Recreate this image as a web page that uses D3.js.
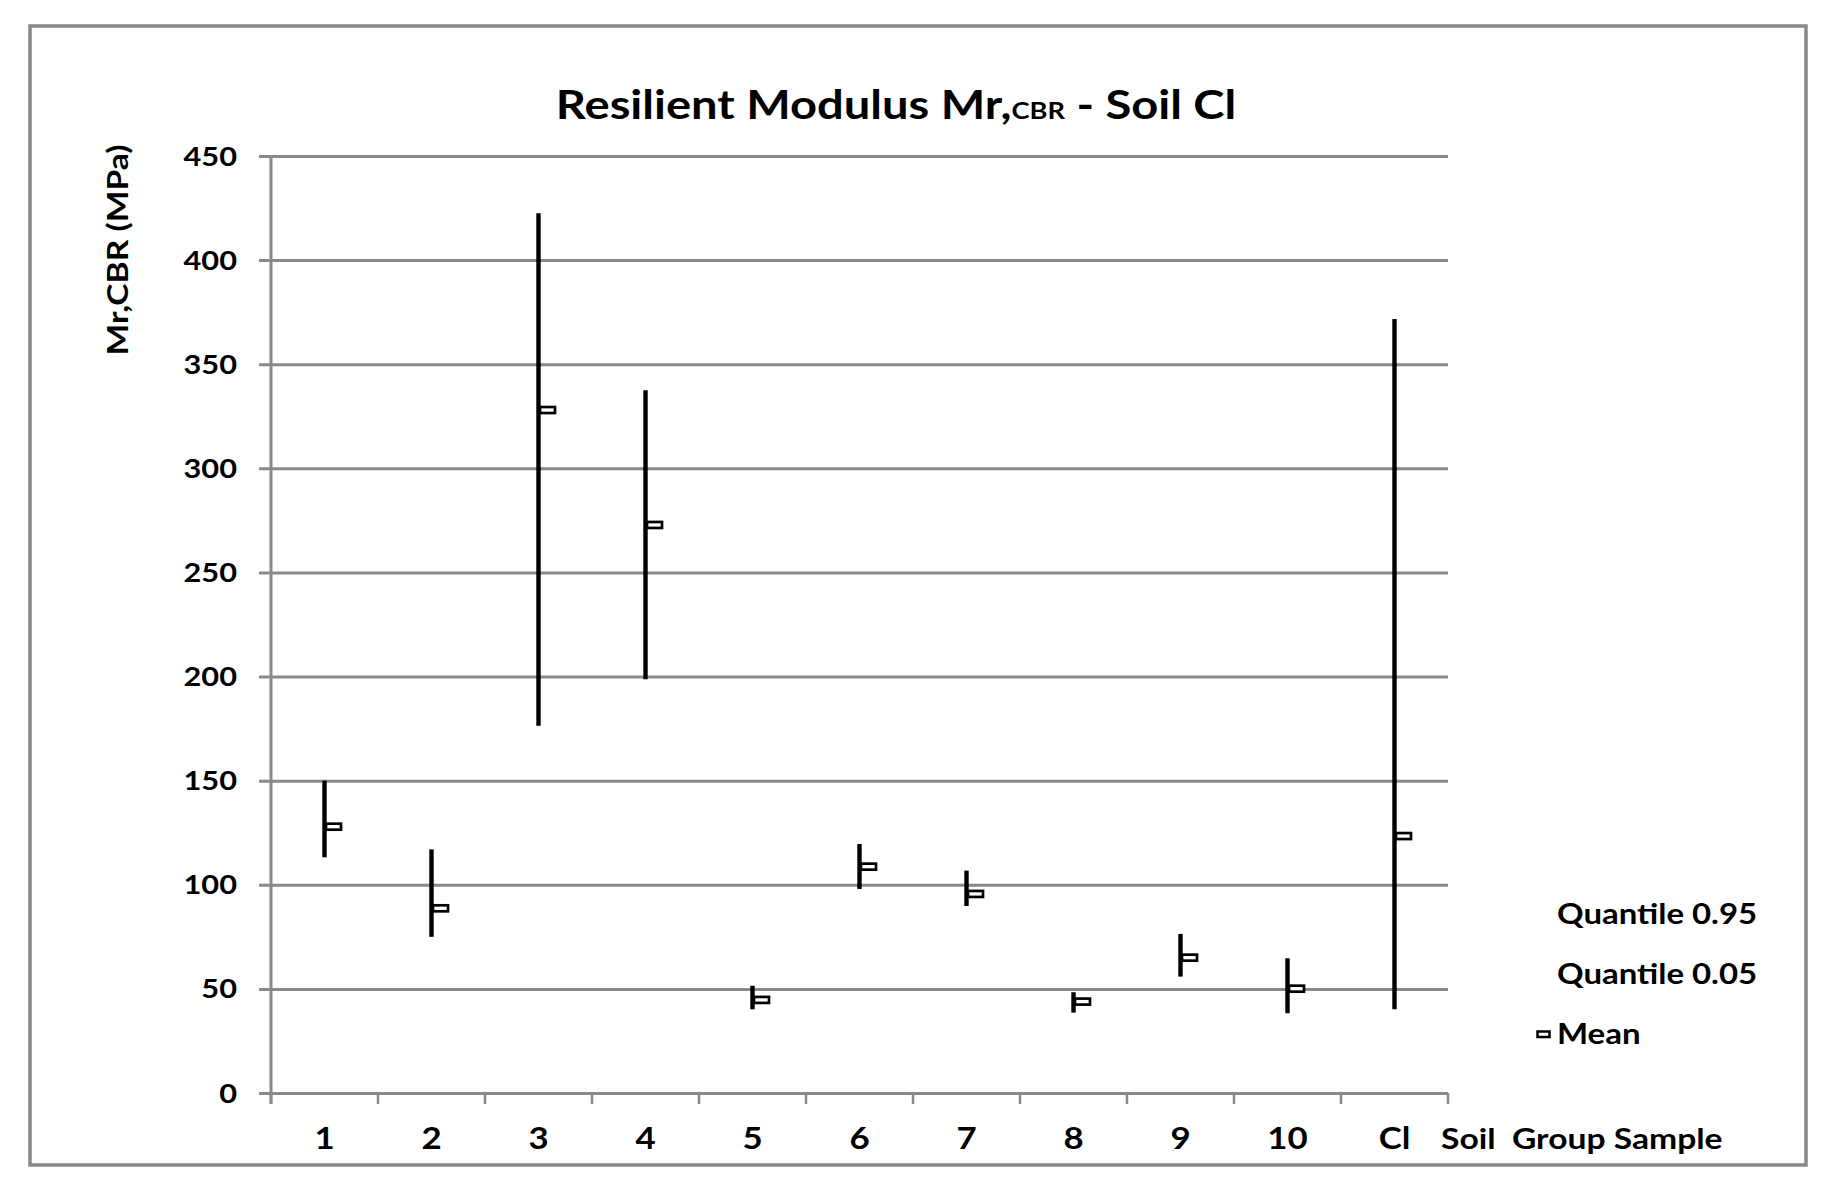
<!DOCTYPE html>
<html>
<head>
<meta charset="utf-8">
<script src="https://cdn.jsdelivr.net/npm/d3@7"></script>
<style>
  html, body { margin: 0; padding: 0; background: #fff; }
  svg text { font-family: Lato, "Open Sans", sans-serif; font-weight: 700; fill: #000; }
</style>
</head>
<body>
<svg id="chart" width="1827" height="1190"></svg>
<script>
// ---- data ----
const categories = ["1", "2", "3", "4", "5", "6", "7", "8", "9", "10", "Cl"];
const quantile95 = [150, 117, 422.5, 337.5, 51.5, 119.6, 106.8, 48.4, 76.4, 64.7, 371.7];
const quantile05 = [113.2, 75, 176.4, 198.7, 40.2, 98, 89.8, 38.6, 55.9, 38.3, 40.2];
const means      = [127.9, 88.7, 328, 272.8, 44.7, 108.7, 95.6, 43.9, 65, 50.1, 123.4];
const yTicks     = [0, 50, 100, 150, 200, 250, 300, 350, 400, 450];
const legendLabels = ["Quantile 0.95", "Quantile 0.05", "Mean"];

// ---- layout ----
const plot = { left: 271, right: 1448, top: 156, bottom: 1093 };
const gridColor = "#898989";
const SX = 1.16; // horizontal stretch of the reference lettering

const svg = d3.select("#chart");

// outer frame
svg.append("rect")
  .attr("x", 30).attr("y", 26).attr("width", 1776).attr("height", 1139)
  .attr("fill", "#fff").attr("stroke", gridColor).attr("stroke-width", 3.5);

const x = d3.scaleBand().domain(categories).range([plot.left, plot.right]).padding(0);
const y = d3.scaleLinear().domain([0, 450]).range([plot.bottom, plot.top]);

function txt(g, s, px, py, size, anchor, rot) {
  return g.append("text")
    .attr("transform", `translate(${px},${py})` + (rot ? ` rotate(${rot})` : "") + ` scale(${SX},1)`)
    .attr("font-size", size)
    .attr("text-anchor", anchor || "start")
    .text(s);
}

// gridlines (d3 axis)
const yAxis = d3.axisLeft(y).tickValues(yTicks)
  .tickSize(-(plot.right - plot.left) - 12).tickFormat("").tickSizeOuter(0);
const gy = svg.append("g").attr("transform", `translate(${plot.right},0)`).call(yAxis);
gy.select(".domain").remove();
gy.selectAll(".tick line").attr("stroke", gridColor).attr("stroke-width", 3)
  .attr("x1", 0).attr("x2", -(plot.right - plot.left) - 12);

// y tick labels
const gyl = svg.append("g");
yTicks.forEach(v => {
  txt(gyl, String(v), 237, y(v) + 9.5, 26.5, "end");
});

// y axis line
svg.append("line")
  .attr("x1", plot.left).attr("x2", plot.left)
  .attr("y1", y(450)).attr("y2", plot.bottom + 11)
  .attr("stroke", gridColor).attr("stroke-width", 3);

// x axis ticks at band boundaries
const boundaries = categories.map(c => x(c)).concat([x(categories[categories.length - 1]) + x.bandwidth()]);
svg.append("g").selectAll("line").data(boundaries).join("line")
  .attr("x1", d => d).attr("x2", d => d)
  .attr("y1", plot.bottom).attr("y2", plot.bottom + 11)
  .attr("stroke", gridColor).attr("stroke-width", 2.5);

// x labels
const gxl = svg.append("g");
categories.forEach(c => {
  txt(gxl, c, x(c) + x.bandwidth() / 2, 1149, 30, "middle");
});
txt(gxl, "Soil  Group Sample", 1441, 1149, 29, "start").style("white-space", "pre");

// quantile range lines
const cx = c => x(c) + x.bandwidth() / 2;
svg.append("g").selectAll("line").data(categories).join("line")
  .attr("x1", c => cx(c)).attr("x2", c => cx(c))
  .attr("y1", (c, i) => y(quantile95[i]))
  .attr("y2", (c, i) => y(quantile05[i]))
  .attr("stroke", "#000").attr("stroke-width", 4.4);

// mean markers
svg.append("g").selectAll("rect").data(categories).join("rect")
  .attr("x", c => cx(c) + 1.5)
  .attr("y", (c, i) => y(means[i]) - 3)
  .attr("width", 15).attr("height", 6)
  .attr("fill", "#fff").attr("stroke", "#000").attr("stroke-width", 2.7);

// title
const title = svg.append("text")
  .attr("transform", `translate(896,119) scale(${SX},1)`)
  .attr("text-anchor", "middle").attr("font-size", 40.6);
title.append("tspan").text("Resilient Modulus Mr,");
title.append("tspan").attr("font-size", 23.5).text("CBR");
title.append("tspan").text(" - Soil Cl");

// y axis title
txt(svg, "Mr,CBR (MPa)", 128, 250, 29, "middle", -90);

// legend
const lg = svg.append("g");
txt(lg, legendLabels[0], 1557, 924, 28.4, "start");
txt(lg, legendLabels[1], 1557, 984, 28.4, "start");
txt(lg, legendLabels[2], 1557, 1044, 28.4, "start");
lg.append("rect").attr("x", 1537.5).attr("y", 1031.5).attr("width", 12).attr("height", 5.5)
  .attr("fill", "#fff").attr("stroke", "#000").attr("stroke-width", 2.5);
</script>
</body>
</html>
